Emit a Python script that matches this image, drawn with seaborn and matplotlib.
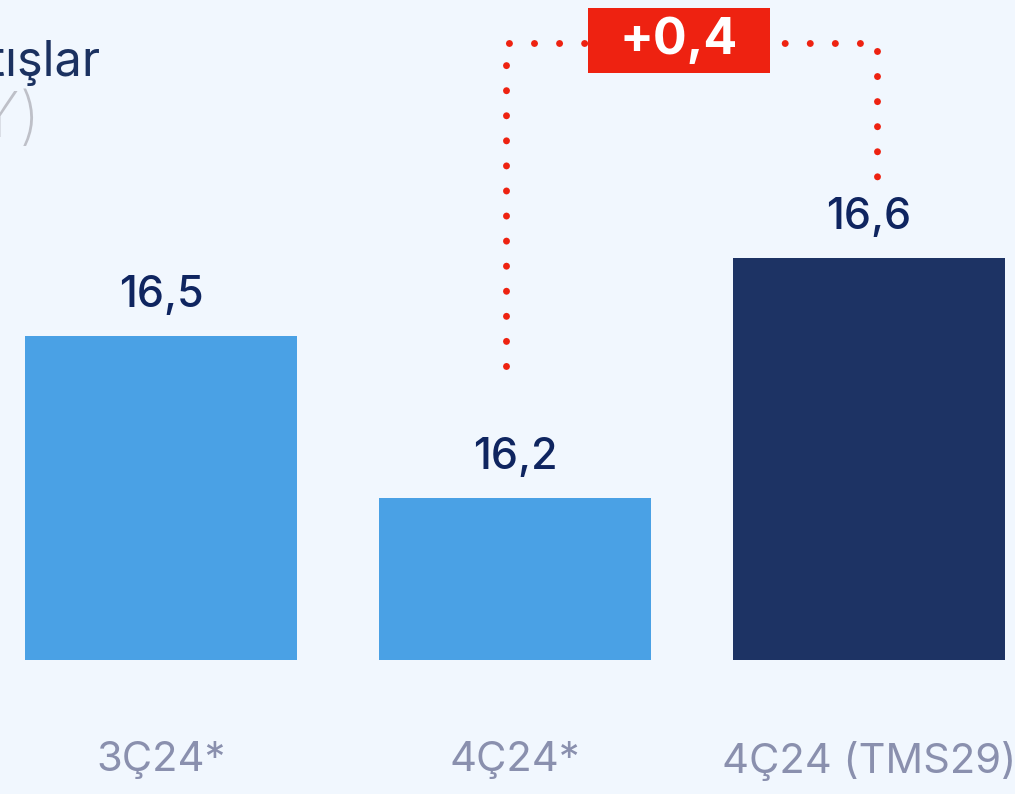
import matplotlib
matplotlib.use("Agg")
from matplotlib import pyplot as plt
from matplotlib.patches import Rectangle
import seaborn as sns
import pandas as pd

# data
categories = ["3Ç24*", "4Ç24*", "4Ç24 (TMS29)"]
values = [16.47, 16.20, 16.60]
bar_colors = ["#4AA1E5", "#4AA1E5", "#1D3364"]
delta_label = "+0,4"
title_line1 = "Net Satışlar"
title_line2 = "(milyar TL, ÇY)"

bg = "#F1F7FE"
navy = "#0F2560"
tick_col = "#8A90AE"
red = "#EE2211"

sns.set_theme(style="white")
plt.rcParams['font.family'] = ['Inter', 'DejaVu Sans']

df = pd.DataFrame({"cat": categories, "val": values})

fig = plt.figure(figsize=(10.15, 7.94), dpi=100, facecolor=bg)
ax = fig.add_axes([0, 1 - 660 / 794, 1, 660 / 794])
ax.set_facecolor(bg)

sns.barplot(data=df, x="cat", y="val", hue="cat", palette=bar_colors,
            width=0.768, saturation=1, legend=False, ax=ax, edgecolor="none")

ymin = 15.93
ax.set_ylim(ymin, ymin + 660 / 600)
ax.set_xlim(-161 / 354, (1015 - 161) / 354)
for s in ax.spines.values():
    s.set_visible(False)
ax.set_yticks([])
ax.set_xlabel("")
ax.set_ylabel("")
ax.tick_params(axis="x", length=0, pad=58, labelsize=30, labelcolor=tick_col)

# value labels
for i, v in enumerate(values):
    ax.annotate(f"{v:.1f}".replace(".", ","), (i, v), xytext=(0, 21),
                textcoords="offset points", ha="center", va="baseline",
                fontsize=31, fontweight="medium", color=navy)

# red dotted bracket
lx, rx = 0.975, 2.022
top_y = max(values) + 0.358
ax.plot([lx, lx, rx, rx], [values[1] + 0.22, top_y, top_y, values[2] + 0.133],
        color=red, linewidth=5, linestyle=(0, (0.01, 3.6)),
        dash_capstyle="round", clip_on=False, zorder=3)

bw, bh = 182 / 354, 65 / 600
bx = (679 - 161) / 354
by = top_y
ax.add_patch(Rectangle((bx - bw / 2, by - bh / 2 + 0.005), bw, bh,
                       facecolor=red, edgecolor="none", zorder=4, clip_on=False))
ax.text(bx, by + 0.005, delta_label, ha="center", va="center", color="white",
        fontsize=36, fontweight="bold", zorder=5)

# title, cut at the left edge
fig.text(100 / 1015, 1 - 76 / 794, title_line1, ha="right", va="baseline",
         fontsize=35, color="#1B3160")
fig.text(40 / 1015, 1 - 137 / 794, title_line2, ha="right", va="baseline",
         fontsize=45, fontweight="light", color="#BEC0C8")

plt.savefig("out.png", dpi=100, facecolor=bg)
